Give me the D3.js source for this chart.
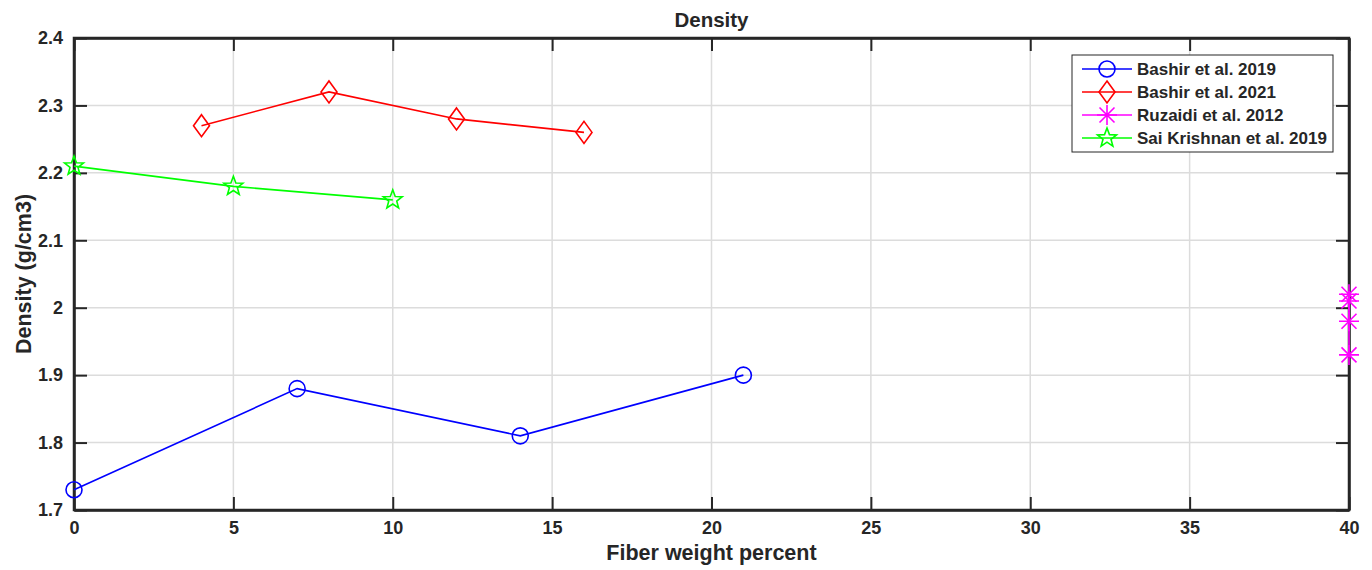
<!DOCTYPE html>
<html><head><meta charset="utf-8">
<script src="https://cdn.jsdelivr.net/npm/d3@7"></script>
<style>body{margin:0;background:#fff}svg{display:block}text{font-family:"Liberation Sans",Arial,sans-serif;font-weight:bold;fill:#262626}</style>
</head><body>
<svg id="c" width="1372" height="570"></svg>
<script>
const xTicks = [0,5,10,15,20,25,30,35,40];
const yTicks = [1.7,1.8,1.9,2.0,2.1,2.2,2.3,2.4];
const yTickLabels = ["1.7","1.8","1.9","2","2.1","2.2","2.3","2.4"];
const bashir2019X = [0,7,14,21];
const bashir2019Y = [1.73,1.88,1.81,1.90];
const bashir2021X = [4,8,12,16];
const bashir2021Y = [2.27,2.32,2.28,2.26];
const ruzaidiX = [40,40,40,40];
const ruzaidiY = [2.02,2.01,1.98,1.93];
const saiX = [0,5,10];
const saiY = [2.21,2.18,2.16];
const seriesNames = ["Bashir et al. 2019","Bashir et al. 2021","Ruzaidi et al. 2012","Sai Krishnan et al. 2019"];

const series = [
 {name:seriesNames[0], xs:bashir2019X, ys:bashir2019Y, color:"#0000ff", marker:"circle"},
 {name:seriesNames[1], xs:bashir2021X, ys:bashir2021Y, color:"#ff0000", marker:"diamond"},
 {name:seriesNames[2], xs:ruzaidiX, ys:ruzaidiY, color:"#ff00ff", marker:"asterisk"},
 {name:seriesNames[3], xs:saiX, ys:saiY, color:"#00ff00", marker:"star"}
];

const L=74, R=1349, T=38, B=510;
const svg=d3.select("#c");
const x=d3.scaleLinear().domain([0,40]).range([L,R]);
const y=d3.scaleLinear().domain([1.7,2.4]).range([B,T]);
const axc="#262626";

// grid
svg.append("g").selectAll("line").data(xTicks).join("line")
 .attr("x1",d=>x(d)).attr("x2",d=>x(d)).attr("y1",T).attr("y2",B)
 .attr("stroke","#dcdcdc").attr("stroke-width",1.5);
svg.append("g").selectAll("line").data(yTicks).join("line")
 .attr("y1",d=>y(d)).attr("y2",d=>y(d)).attr("x1",L).attr("x2",R)
 .attr("stroke","#dcdcdc").attr("stroke-width",1.5);

// axes with inner ticks
const tk=13;
const gx=svg.append("g").attr("transform",`translate(0,${B})`)
 .call(d3.axisBottom(x).tickValues(xTicks).tickSizeInner(-tk).tickSizeOuter(0).tickPadding(11).tickFormat(d3.format("d")));
const gxt=svg.append("g").attr("transform",`translate(0,${T})`)
 .call(d3.axisTop(x).tickValues(xTicks).tickSizeInner(-tk).tickSizeOuter(0).tickFormat(""));
const gy=svg.append("g").attr("transform",`translate(${L},0)`)
 .call(d3.axisLeft(y).tickValues(yTicks).tickSizeInner(-tk).tickSizeOuter(0).tickPadding(11).tickFormat((d,i)=>yTickLabels[i]));
const gyr=svg.append("g").attr("transform",`translate(${R},0)`)
 .call(d3.axisRight(y).tickValues(yTicks).tickSizeInner(-tk).tickSizeOuter(0).tickFormat(""));
[gx,gxt,gy,gyr].forEach(g=>{
 g.select(".domain").attr("stroke",axc).attr("stroke-width",2.5);
 g.selectAll(".tick line").attr("stroke",axc).attr("stroke-width",2);
 g.selectAll("text").attr("font-size",18).attr("font-family","Liberation Sans, Arial, sans-serif").attr("font-weight","bold").attr("fill",axc);
});
gx.selectAll(".tick text").attr("dy","0.71em");
svg.append("rect").attr("x",L).attr("y",T).attr("width",R-L).attr("height",B-T)
 .attr("fill","none").attr("stroke",axc).attr("stroke-width",2.5);

function drawMarker(g,mk,cx,cy,color){
 const sw=1.6;
 if(mk==="circle"){
  g.append("circle").attr("cx",cx).attr("cy",cy).attr("r",8).attr("fill","none").attr("stroke",color).attr("stroke-width",sw);
 } else if(mk==="diamond"){
  g.append("path").attr("d",`M${cx},${cy-11}L${cx+8},${cy}L${cx},${cy+11}L${cx-8},${cy}Z`).attr("fill","none").attr("stroke",color).attr("stroke-width",sw);
 } else if(mk==="asterisk"){
  const r=10;
  let d=`M${cx-r},${cy}L${cx+r},${cy}M${cx},${cy-r}L${cx},${cy+r}`;
  const a=r*0.75;
  d+=`M${cx-a},${cy-a}L${cx+a},${cy+a}M${cx-a},${cy+a}L${cx+a},${cy-a}`;
  g.append("path").attr("d",d).attr("fill","none").attr("stroke",color).attr("stroke-width",sw);
 } else if(mk==="star"){
  const ro=10, ri=4.2; let pts=[];
  for(let i=0;i<10;i++){const r=i%2?ri:ro; const ang=-Math.PI/2+i*Math.PI/5; pts.push([cx+r*Math.cos(ang),cy+r*Math.sin(ang)]);}
  g.append("path").attr("d","M"+pts.map(p=>p.join(",")).join("L")+"Z").attr("fill","none").attr("stroke",color).attr("stroke-width",sw);
 }
}

const line=d3.line().x(d=>x(d[0])).y(d=>y(d[1]));
const plot=svg.append("g");
series.forEach(s=>{
 const pts=s.xs.map((v,i)=>[v,s.ys[i]]);
 plot.append("path").datum(pts).attr("d",line).attr("fill","none").attr("stroke",s.color).attr("stroke-width",1.6);
 pts.forEach(p=>drawMarker(plot,s.marker,x(p[0]),y(p[1]),s.color));
});

// title and labels
svg.append("text").attr("x",(L+R)/2).attr("y",27).attr("text-anchor","middle").attr("font-size",20.5).text("Density");
svg.append("text").attr("x",(L+R)/2).attr("y",560).attr("text-anchor","middle").attr("font-size",21.5).text("Fiber weight percent");
svg.append("text").attr("transform",`translate(31,${(T+B)/2}) rotate(-90)`).attr("text-anchor","middle").attr("font-size",21.5).text("Density (g/cm3)");

// legend
const lg=svg.append("g");
lg.append("rect").attr("x",1072).attr("y",55).attr("width",261).attr("height",97).attr("fill","#fff").attr("stroke","#262626").attr("stroke-width",1);
series.forEach((s,i)=>{
 const cy=69+i*23;
 lg.append("line").attr("x1",1082).attr("x2",1132).attr("y1",cy).attr("y2",cy).attr("stroke",s.color).attr("stroke-width",1.6);
 drawMarker(lg,s.marker,1107,cy,s.color);
 lg.append("text").attr("x",1137).attr("y",cy+6).attr("font-size",17).text(s.name);
});
</script>
</body></html>
